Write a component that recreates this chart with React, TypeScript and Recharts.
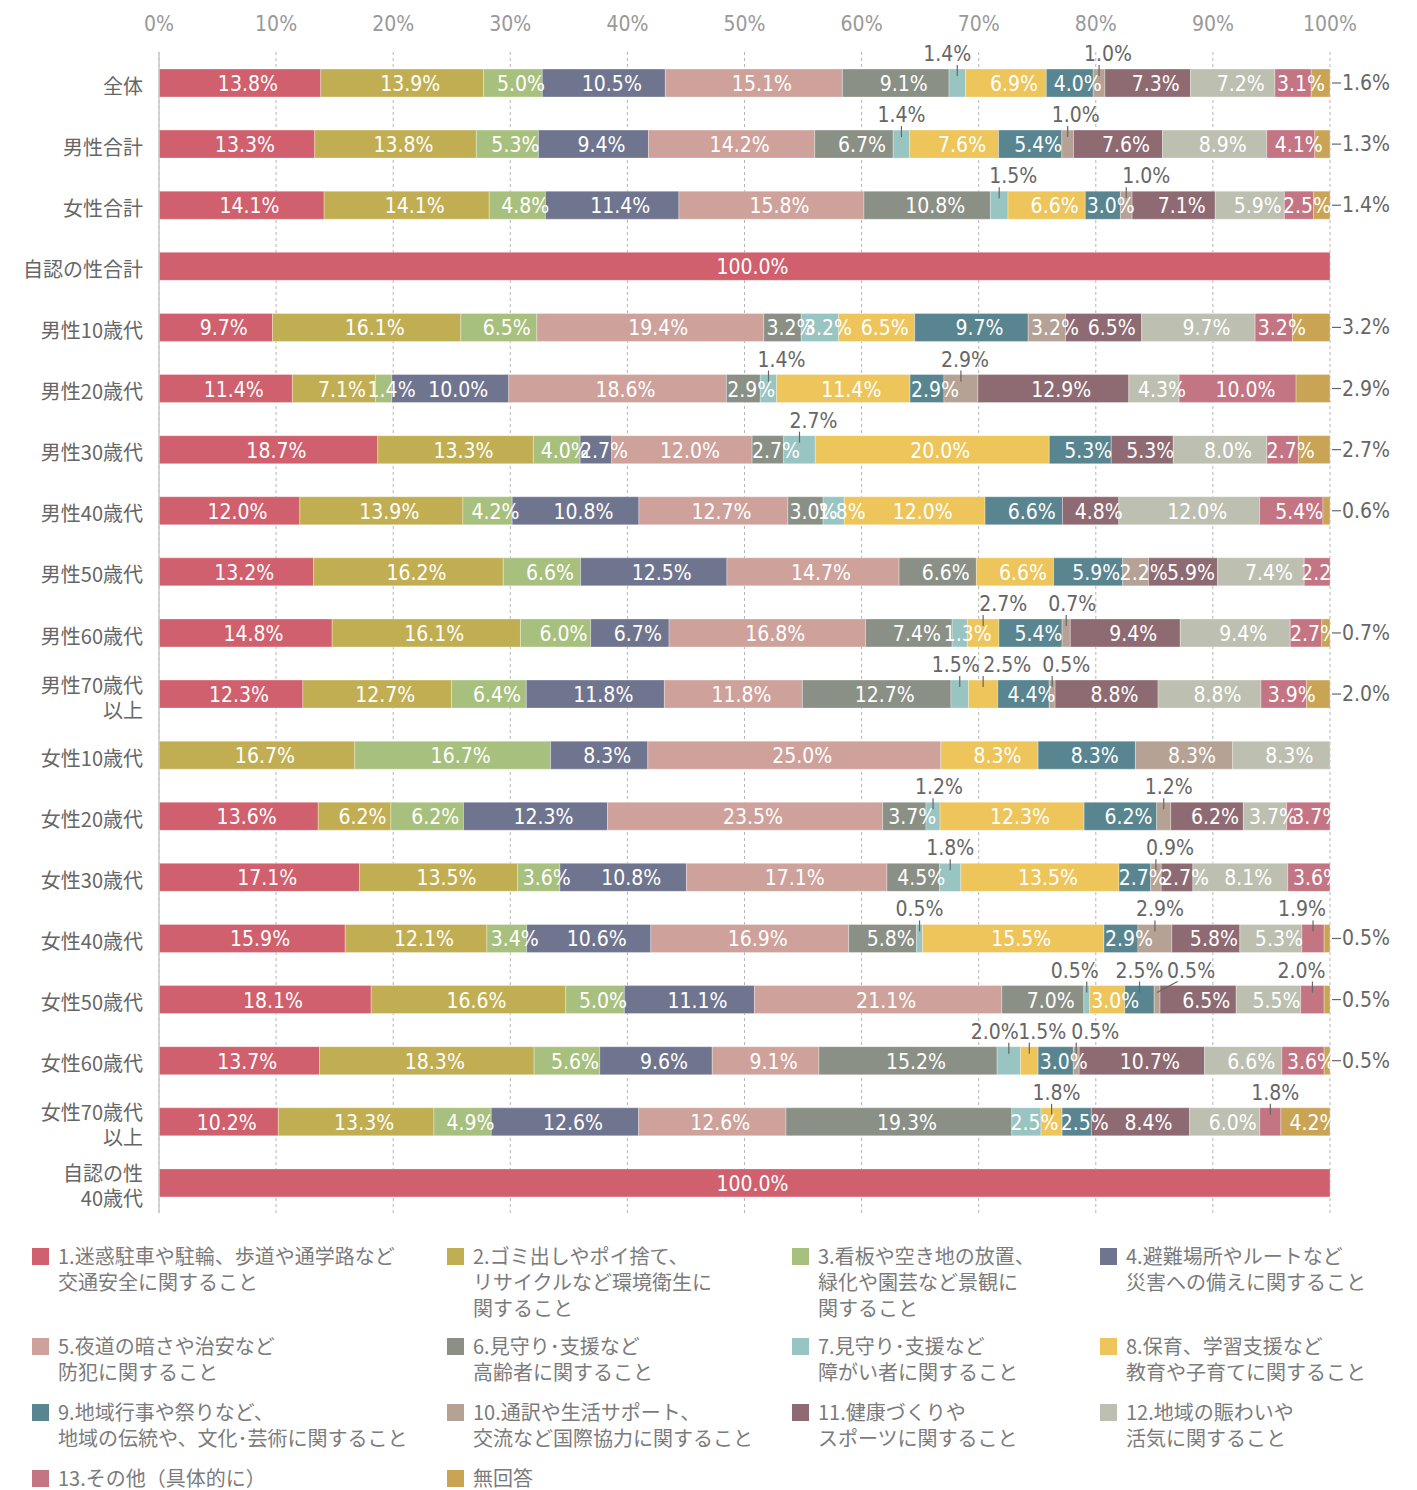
import React from "react";
import { Bar, BarChart, CartesianGrid, LabelList, XAxis, YAxis } from "recharts";

const categories = [
  "全体", "男性合計", "女性合計", "自認の性合計",
  "男性10歳代", "男性20歳代", "男性30歳代", "男性40歳代", "男性50歳代", "男性60歳代", "男性70歳代\n以上",
  "女性10歳代", "女性20歳代", "女性30歳代", "女性40歳代", "女性50歳代", "女性60歳代", "女性70歳代\n以上",
  "自認の性\n40歳代",
];

// one array per answer, one value per row (same order as categories)
const s1 = [13.8, 13.3, 14.1, 100, 9.7, 11.4, 18.7, 12.0, 13.2, 14.8, 12.3, 0, 13.6, 17.1, 15.9, 18.1, 13.7, 10.2, 100];
const s2 = [13.9, 13.8, 14.1, 0, 16.1, 7.1, 13.3, 13.9, 16.2, 16.1, 12.7, 16.7, 6.2, 13.5, 12.1, 16.6, 18.3, 13.3, 0];
const s3 = [5.0, 5.3, 4.8, 0, 6.5, 1.4, 4.0, 4.2, 6.6, 6.0, 6.4, 16.7, 6.2, 3.6, 3.4, 5.0, 5.6, 4.9, 0];
const s4 = [10.5, 9.4, 11.4, 0, 0, 10.0, 2.7, 10.8, 12.5, 6.7, 11.8, 8.3, 12.3, 10.8, 10.6, 11.1, 9.6, 12.6, 0];
const s5 = [15.1, 14.2, 15.8, 0, 19.4, 18.6, 12.0, 12.7, 14.7, 16.8, 11.8, 25.0, 23.5, 17.1, 16.9, 21.1, 9.1, 12.6, 0];
const s6 = [9.1, 6.7, 10.8, 0, 3.2, 2.9, 2.7, 3.0, 6.6, 7.4, 12.7, 0, 3.7, 4.5, 5.8, 7.0, 15.2, 19.3, 0];
const s7 = [1.4, 1.4, 1.5, 0, 3.2, 1.4, 2.7, 1.8, 0, 1.3, 1.5, 0, 1.2, 1.8, 0.5, 0.5, 2.0, 2.5, 0];
const s8 = [6.9, 7.6, 6.6, 0, 6.5, 11.4, 20.0, 12.0, 6.6, 2.7, 2.5, 8.3, 12.3, 13.5, 15.5, 3.0, 1.5, 1.8, 0];
const s9 = [4.0, 5.4, 3.0, 0, 9.7, 2.9, 5.3, 6.6, 5.9, 5.4, 4.4, 8.3, 6.2, 2.7, 2.9, 2.5, 3.0, 2.5, 0];
const s10 = [1.0, 1.0, 1.0, 0, 3.2, 2.9, 0, 0, 2.2, 0.7, 0.5, 8.3, 1.2, 0.9, 2.9, 0.5, 0.5, 0, 0];
const s11 = [7.3, 7.6, 7.1, 0, 6.5, 12.9, 5.3, 4.8, 5.9, 9.4, 8.8, 0, 6.2, 2.7, 5.8, 6.5, 10.7, 8.4, 0];
const s12 = [7.2, 8.9, 5.9, 0, 9.7, 4.3, 8.0, 12.0, 7.4, 9.4, 8.8, 8.3, 3.7, 8.1, 5.3, 5.5, 6.6, 6.0, 0];
const s13 = [3.1, 4.1, 2.5, 0, 3.2, 10.0, 2.7, 5.4, 2.2, 2.7, 3.9, 0, 3.7, 3.6, 1.9, 2.0, 3.6, 1.8, 0];
const noAnswer = [1.6, 1.3, 1.4, 0, 3.2, 2.9, 2.7, 0.6, 0, 0.7, 2.0, 0, 0, 0, 0.5, 0.5, 0.5, 4.2, 0];

const seriesValues = [s1, s2, s3, s4, s5, s6, s7, s8, s9, s10, s11, s12, s13, noAnswer];

const seriesLabels = [
  ["1.迷惑駐車や駐輪、歩道や通学路など", "交通安全に関すること"],
  ["2.ゴミ出しやポイ捨て、", "リサイクルなど環境衛生に", "関すること"],
  ["3.看板や空き地の放置、", "緑化や園芸など景観に", "関すること"],
  ["4.避難場所やルートなど", "災害への備えに関すること"],
  ["5.夜道の暗さや治安など", "防犯に関すること"],
  ["6.見守り･支援など", "高齢者に関すること"],
  ["7.見守り･支援など", "障がい者に関すること"],
  ["8.保育、学習支援など", "教育や子育てに関すること"],
  ["9.地域行事や祭りなど、", "地域の伝統や、文化･芸術に関すること"],
  ["10.通訳や生活サポート、", "交流など国際協力に関すること"],
  ["11.健康づくりや", "スポーツに関すること"],
  ["12.地域の賑わいや", "活気に関すること"],
  ["13.その他（具体的に）"],
  ["無回答"],
];

const colors = [
  "#D0606D", "#C2AE52", "#A8C07E", "#70758F", "#CEA29B", "#8A9085", "#98C4C2",
  "#EDC55A", "#588590", "#B5A294", "#8E6A72", "#BDC0B0", "#C47584", "#C9A455",
];

const xTickValues = [0, 10, 20, 30, 40, 50, 60, 70, 80, 90, 100];

// small segments labelled above the bar: [row, series, text shift]
const callouts: [number, number, number][] = [
  [0, 6, -10], [0, 9, 9],
  [1, 6, 0], [1, 9, 8],
  [2, 6, 14], [2, 9, 20],
  [5, 6, 13], [5, 9, 4],
  [6, 6, 14],
  [9, 7, 20], [9, 9, 6],
  [10, 6, -4], [10, 7, 24], [10, 9, 14],
  [12, 6, 6], [12, 9, 5],
  [13, 6, 0], [13, 9, 14],
  [14, 6, 0], [14, 9, 5], [14, 12, -11],
  [15, 6, -12], [15, 8, 0], [15, 9, 34], [15, 12, -11],
  [16, 6, -14], [16, 7, 13], [16, 9, 19],
  [17, 7, 5], [17, 12, 5],
];

const keys = seriesValues.map((_, i) => `k${i}`);
const rows = categories.map((name, r) => {
  const row: Record<string, any> = { name, row: r };
  seriesValues.forEach((arr, i) => (row[keys[i]] = arr[r]));
  return row;
});

const NUM = "'Liberation Sans Narrow','DejaVu Sans Condensed','Noto Sans',sans-serif";
const JP = "'Noto Sans CJK JP','Noto Sans',sans-serif";
const LABEL_SIZE = 21;

const makeLabel = (si: number) => (props: any) => {
  const vb = props.viewBox || {};
  const x = Number(props.x ?? vb.x);
  const y = Number(props.y ?? vb.y);
  const width = Number(props.width ?? vb.width);
  const height = Number(props.height ?? vb.height);
  const r = Number(String(props.value).split("|")[0]);
  const v = seriesValues[si][r];
  if (!v || !isFinite(x)) return null;
  const text = v.toFixed(1) + "%";
  const cy = y + height / 2;
  const co = callouts.find((c) => c[0] === r && c[1] === si);
  if (co) {
    const cx = x + width / 2;
    const dx = co[2];
    return (
      <g>
        <line x1={Math.abs(dx) > 25 ? cx + dx * 0.6 : cx} y1={y - 4} x2={cx} y2={y + 7} stroke="#666" strokeWidth={1.2} />
        <text x={cx + dx} y={y - 15} textAnchor="middle" dominantBaseline="central" fill="#666" fontSize={LABEL_SIZE} fontFamily={NUM}>
          {text}
        </text>
      </g>
    );
  }
  if (si === 13 && v < 4) {
    const ex = x + width;
    return (
      <g>
        <line x1={ex + 2} y1={cy} x2={ex + 11} y2={cy} stroke="#666" strokeWidth={1.2} />
        <text x={ex + 12} y={cy} dominantBaseline="central" fill="#666" fontSize={LABEL_SIZE} fontFamily={NUM}>
          {text}
        </text>
      </g>
    );
  }
  return (
    <text x={x + width / 2 + 8} y={cy + 1} textAnchor="middle" dominantBaseline="central" fill="#fff" fontSize={LABEL_SIZE} fontFamily={NUM}>
      {text}
    </text>
  );
};

function CategoryTick({ x, y, payload }: any) {
  const lines = String(payload.value).split("\n");
  const start = y + 2 - (lines.length - 1) * 12;
  return (
    <text textAnchor="end" dominantBaseline="central" fill="#666" fontSize={20} fontFamily={JP}>
      {lines.map((l, i) => (
        <tspan key={i} x={x - 8} y={start + i * 25}>{l}</tspan>
      ))}
    </text>
  );
}

function PercentTick({ x, y, payload }: any) {
  return (
    <text x={x} y={y - 20} textAnchor="middle" dominantBaseline="central" fill="#999" fontSize={LABEL_SIZE} fontFamily={NUM}>
      {Math.round(payload.value * 100)}%
    </text>
  );
}

export default function App() {
  return (
    <div style={{ position: "relative", width: 1401, height: 1482 }}>
      <BarChart
        width={1401}
        height={1225}
        data={rows}
        layout="vertical"
        stackOffset="expand"
        barSize={28}
        margin={{ top: 14, right: 79, bottom: 20, left: 0 }}
      >
        <CartesianGrid horizontal={false} stroke="#b5b5b5" strokeDasharray="3 3" />
        <XAxis
          type="number"
          orientation="top"
          domain={[0, 1]}
          ticks={xTickValues.map((v) => v / 100)}
          axisLine={false}
          tickLine={false}
          height={30}
          tick={<PercentTick />}
        />
        <YAxis
          type="category"
          dataKey="name"
          width={151}
          axisLine={{ stroke: "#c8c8c8", strokeWidth: 1.5 }}
          tickLine={false}
          interval={0}
          tick={<CategoryTick />}
        />
        {keys.map((k, i) => (
          <Bar key={k} dataKey={k} stackId="a" fill={colors[i]} stroke="rgba(255,255,255,0.5)" strokeWidth={0.6} isAnimationActive={false}>
            <LabelList dataKey={(d: any) => `${d.row}|${d[k]}`} content={makeLabel(i)} />
          </Bar>
        ))}
      </BarChart>
      <div
        style={{
          position: "absolute",
          left: 24,
          top: 1235,
          display: "grid",
          gridTemplateColumns: "415px 345px 308px 300px",
          gridTemplateRows: "90px 66px 66px 30px",
          fontFamily: JP,
          fontSize: 20,
          lineHeight: "26px",
          color: "#7b7b7b",
        }}
      >
        {seriesLabels.map((lines, i) => (
          <div key={i} style={{ display: "flex", alignItems: "flex-start" }}>
            <div style={{ width: 17, height: 17, marginTop: 5, marginRight: 9, background: colors[i], flexShrink: 0 }} />
            <div>
              {lines.map((l, j) => (
                <div key={j} style={{ whiteSpace: "nowrap" }}>{l}</div>
              ))}
            </div>
          </div>
        ))}
      </div>
    </div>
  );
}
